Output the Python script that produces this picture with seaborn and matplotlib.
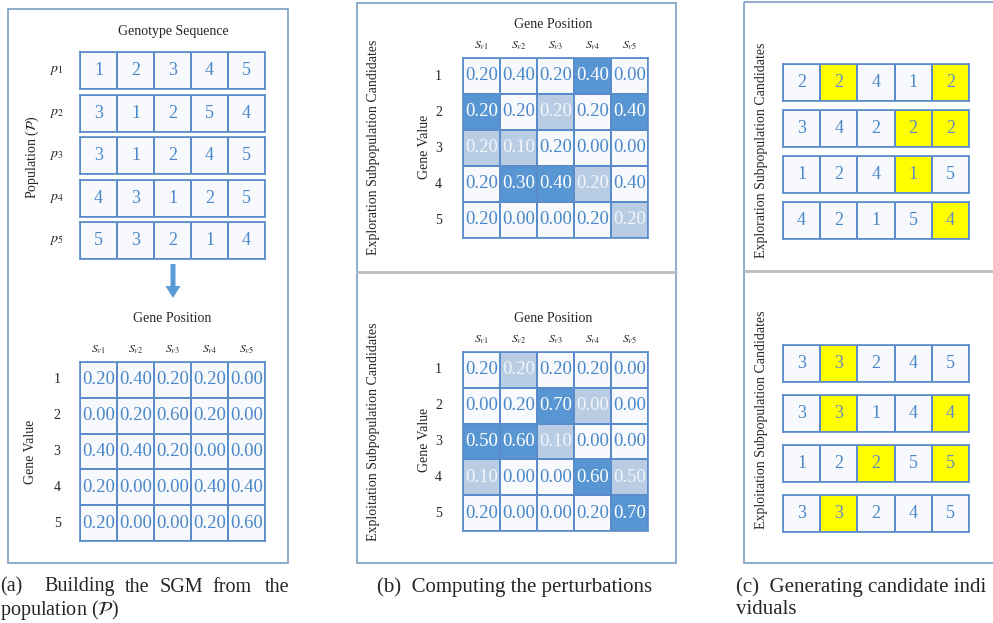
import numpy as np
import matplotlib
matplotlib.use("Agg")
import matplotlib.pyplot as plt
import seaborn as sns
from matplotlib.colors import ListedColormap
from matplotlib.patches import Rectangle, FancyArrow

# population (genotype sequences)
population = [[1, 2, 3, 4, 5],
              [3, 1, 2, 5, 4],
              [3, 1, 2, 4, 5],
              [4, 3, 1, 2, 5],
              [5, 3, 2, 1, 4]]
pop_labels = [r'$p_1$', r'$p_2$', r'$p_3$', r'$p_4$', r'$p_5$']
gene_pos = [r'$S_{v1}$', r'$S_{v2}$', r'$S_{v3}$', r'$S_{v4}$', r'$S_{v5}$']
gene_vals = ['1', '2', '3', '4', '5']

# SGM built from the population
sgm = [[0.20, 0.40, 0.20, 0.20, 0.00],
       [0.00, 0.20, 0.60, 0.20, 0.00],
       [0.40, 0.40, 0.20, 0.00, 0.00],
       [0.20, 0.00, 0.00, 0.40, 0.40],
       [0.20, 0.00, 0.00, 0.20, 0.60]]
sgm_shade = [[0] * 5] * 5

# perturbations (0 = unchanged, 1 = decreased, 2 = increased)
explore_pert = [[0.20, 0.40, 0.20, 0.40, 0.00],
                [0.20, 0.20, 0.20, 0.20, 0.40],
                [0.20, 0.10, 0.20, 0.00, 0.00],
                [0.20, 0.30, 0.40, 0.20, 0.40],
                [0.20, 0.00, 0.00, 0.20, 0.20]]
explore_shade = [[0, 0, 0, 2, 0],
                 [2, 0, 1, 0, 2],
                 [1, 1, 0, 0, 0],
                 [0, 2, 2, 1, 0],
                 [0, 0, 0, 0, 1]]
exploit_pert = [[0.20, 0.20, 0.20, 0.20, 0.00],
                [0.00, 0.20, 0.70, 0.00, 0.00],
                [0.50, 0.60, 0.10, 0.00, 0.00],
                [0.10, 0.00, 0.00, 0.60, 0.50],
                [0.20, 0.00, 0.00, 0.20, 0.70]]
exploit_shade = [[0, 1, 0, 0, 0],
                 [0, 0, 2, 1, 0],
                 [2, 2, 1, 0, 0],
                 [1, 0, 0, 2, 1],
                 [0, 0, 0, 0, 2]]

# candidate individuals (1 = gene changed)
explore_cands = [[2, 2, 4, 1, 2],
                 [3, 4, 2, 2, 2],
                 [1, 2, 4, 1, 5],
                 [4, 2, 1, 5, 4]]
explore_mark = [[0, 1, 0, 0, 1],
                [0, 0, 0, 1, 1],
                [0, 0, 0, 1, 0],
                [0, 0, 0, 0, 1]]
exploit_cands = [[3, 3, 2, 4, 5],
                 [3, 3, 1, 4, 4],
                 [1, 2, 2, 5, 5],
                 [3, 3, 2, 4, 5]]
exploit_mark = [[0, 1, 0, 0, 0],
                [0, 1, 0, 0, 1],
                [0, 0, 1, 0, 1],
                [0, 1, 0, 0, 0]]

sns.set_style('white')
plt.rcParams['font.family'] = ['Liberation Serif', 'DejaVu Serif']
plt.rcParams['mathtext.fontset'] = 'stix'

W, H = 993, 623
EDGE = '#5a8ccb'
BOX = '#86a6c9'
CELL = '#f7f9fc'
LIGHT = '#b8cce4'
DARK = '#5796d2'
TXT = '#4a88c9'
YELLOW = '#ffff00'

fig = plt.figure(figsize=(W / 100, H / 100), dpi=100)
bg = fig.add_axes([0, 0, 1, 1])
bg.set_xlim(0, W)
bg.set_ylim(H, 0)
bg.axis('off')


def place(x0, y0, x1, y1):
    return fig.add_axes([x0 / W, 1 - y1 / H, (x1 - x0) / W, (y1 - y0) / H])


def grid(box, vals, shade, fmt, colors, txtcolors, xlab=False, ylab=False, ypad=14, fs=13.5):
    ax = place(*box)
    shade = np.array(shade)
    sns.heatmap(shade, ax=ax, cmap=ListedColormap(colors), vmin=0, vmax=len(colors) - 1,
                annot=np.array(vals), fmt=fmt, cbar=False, linewidths=1.2, linecolor=EDGE,
                xticklabels=xlab, yticklabels=ylab, annot_kws={'fontsize': fs})
    for t, c in zip(ax.texts, shade.flat):
        t.set_color(txtcolors[c])
    for sp in ax.spines.values():
        sp.set_visible(True)
        sp.set_edgecolor(EDGE)
        sp.set_linewidth(1.2)
    ax.tick_params(length=0)
    if xlab:
        ax.xaxis.tick_top()
        ax.tick_params(axis='x', pad=4, labelsize=8.5, labelrotation=0)
    if ylab:
        ax.tick_params(axis='y', pad=ypad, labelsize=10, labelrotation=0)
    return ax


# panel boxes
bg.add_patch(Rectangle((8, 9), 280, 554, fill=False, ec=BOX, lw=1.3))
bg.add_patch(Rectangle((357, 3), 319, 560, fill=False, ec=BOX, lw=1.3))
bg.plot([357, 676], [272, 272], color='#b9bec5', lw=2)
bg.add_patch(Rectangle((744, 2), 300, 561, fill=False, ec=BOX, lw=1.3))
bg.plot([744, 993], [271, 271], color='#b9bec5', lw=2)

# (a) population
bg.text(173, 31, 'Genotype Sequence', ha='center', va='center', fontsize=10)
bg.text(32, 157, r'Population ($\mathcal{P}$)', ha='center', va='center', rotation=90, fontsize=10)
row_y = [(52, 89), (95, 132), (137, 174), (180, 217), (222, 259)]
for (y0, y1), genes, lab in zip(row_y, population, pop_labels):
    grid((80, y0, 265, y1), [genes], [[0] * 5], 'd', [CELL], [TXT], ylab=[lab], ypad=12, fs=13)

bg.add_patch(FancyArrow(173, 264, 0, 34, width=5, head_width=15, head_length=12,
                        length_includes_head=True, color='#5b9bd5', lw=0))

# (a) SGM
bg.text(172, 318, 'Gene Position', ha='center', va='center', fontsize=10)
bg.text(30, 452, 'Gene Value', ha='center', va='center', rotation=90, fontsize=10)
grid((80, 362, 265, 541), sgm, sgm_shade, '.2f', [CELL], [TXT], xlab=gene_pos, ylab=gene_vals, ypad=14)

# (b) perturbations
pert_cols = [CELL, LIGHT, DARK]
pert_txt = [TXT, '#f2f6fb', 'white']
for (gy0, gy1), vals, shade, title, tpos, gpos, lpos in [
        ((58, 238), explore_pert, explore_shade, 'Exploration Subpopulation Candidates', 24, 147, 147),
        ((352, 531), exploit_pert, exploit_shade, 'Exploitation Subpopulation Candidates', 318, 440, 432)]:
    bg.text(553, tpos, 'Gene Position', ha='center', va='center', fontsize=10)
    bg.text(425, gpos, 'Gene Value', ha='center', va='center', rotation=90, fontsize=10)
    bg.text(373, lpos, title, ha='center', va='center', rotation=90, fontsize=10)
    grid((463, gy0, 648, gy1), vals, shade, '.2f', pert_cols, pert_txt, xlab=gene_pos, ylab=gene_vals, ypad=15)

# (c) candidate individuals
top_rows = [(64, 101), (110, 147), (156, 193), (202, 239)]
bot_rows = [(345, 382), (395, 432), (445, 482), (495, 532)]
bg.text(762, 150, 'Exploration Subpopulation Candidates', ha='center', va='center', rotation=90, fontsize=10)
bg.text(762, 420, 'Exploitation Subpopulation Candidates', ha='center', va='center', rotation=90, fontsize=10)
for rows, cands, marks in [(top_rows, explore_cands, explore_mark), (bot_rows, exploit_cands, exploit_mark)]:
    for (y0, y1), genes, mark in zip(rows, cands, marks):
        grid((783, y0, 969, y1), [genes], [mark], 'd', [CELL, YELLOW], [TXT, '#5f8cc0'], fs=13)

# captions
for word, x in zip(['(a)', 'Building', 'the', 'SGM', 'from', 'the'], [0, 44, 125, 160, 212, 265]):
    bg.text(x, 587, word, ha='left', va='center', fontsize=14.5)
bg.text(0, 610, r'population ($\mathcal{P}$)', ha='left', va='center', fontsize=14.5)
bg.text(377, 587, '(b)  Computing the perturbations', ha='left', va='center', fontsize=15)
bg.text(736, 587, '(c)  Generating candidate indi', ha='left', va='center', fontsize=15)
bg.text(736, 610, 'viduals', ha='left', va='center', fontsize=15)

fig.savefig('out.png', dpi=100)
